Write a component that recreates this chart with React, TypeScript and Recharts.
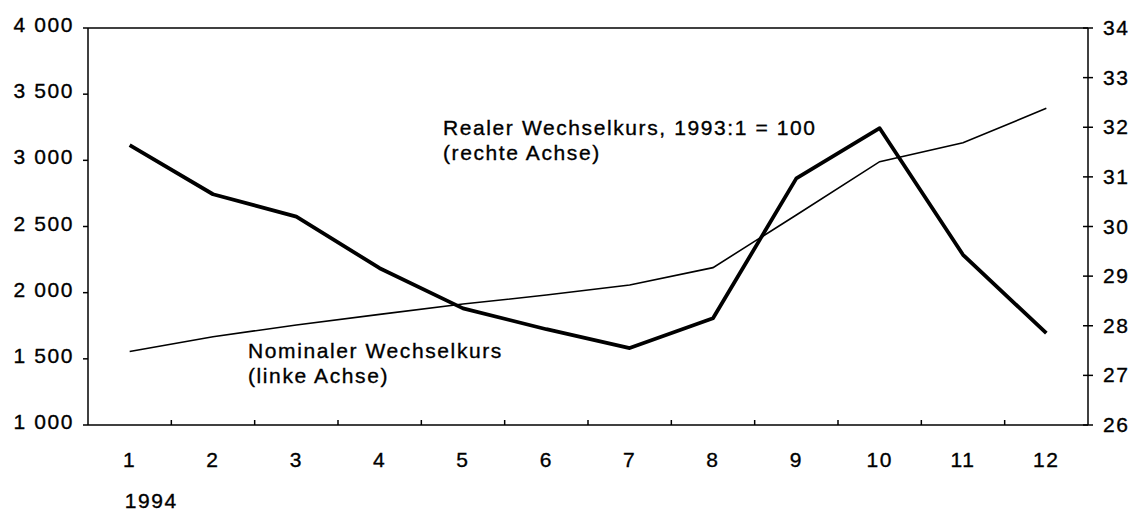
import { LineChart, Line, XAxis, YAxis, ReferenceLine } from "recharts";

const months = ["1", "2", "3", "4", "5", "6", "7", "8", "9", "10", "11", "12"];
const nominal = [1555, 1667, 1756, 1836, 1914, 1982, 2058, 2189, 2587, 2990, 3133, 3393];
const real = [31.64, 30.65, 30.2, 29.16, 28.35, 27.93, 27.55, 28.15, 30.97, 31.98, 29.43, 27.85];
const leftTicks = [1000, 1500, 2000, 2500, 3000, 3500, 4000];
const rightTicks = [26, 27, 28, 29, 30, 31, 32, 33, 34];
const yearLabel = "1994";
const realLabel = ["Realer Wechselkurs, 1993:1 = 100", "(rechte Achse)"];
const nominalLabel = ["Nominaler Wechselkurs", "(linke Achse)"];

const W = 1135;
const H = 511;
const LEFT_W = 88;
const RIGHT_W = 47;
const PLOT_W = W - LEFT_W - RIGHT_W;
const STEP = PLOT_W / months.length;
const FONT = "'Liberation Sans', Arial, Helvetica, sans-serif";
const FS = 21;
const LS = 1.6;

const data = months.map((m, i) => ({ month: m, nominal: nominal[i], real: real[i] }));

const fmt = (v: number) =>
  v >= 1000 ? `${Math.floor(v / 1000)} ${String(v % 1000).padStart(3, "0")}` : String(v);

// shared look for svg labels, slight stroke to mimic the heavier print
const txt = {
  fontSize: FS,
  fontFamily: FONT,
  letterSpacing: LS,
  fill: "#000",
  stroke: "#000",
  strokeWidth: 0.35,
};

function XTick(props: any) {
  const { x, y, payload, index } = props;
  return (
    <g>
      {index > 0 && (
        <line x1={x - STEP / 2} x2={x - STEP / 2} y1={y} y2={y - 5} stroke="#000" strokeWidth={1.5} />
      )}
      <text x={x} y={y + 42} textAnchor="middle" {...txt}>
        {payload.value}
      </text>
      {index === 0 && (
        <text x={x - 5} y={y + 83} textAnchor="start" {...txt}>
          {yearLabel}
        </text>
      )}
    </g>
  );
}

function LeftTick(props: any) {
  const { x, y, payload } = props;
  return (
    <g>
      <line x1={x - 5} x2={x} y1={y} y2={y} stroke="#000" strokeWidth={1.5} />
      <text x={x - 14} y={y + 4} textAnchor="end" {...txt}>
        {fmt(payload.value)}
      </text>
    </g>
  );
}

function RightTick(props: any) {
  const { x, y, payload } = props;
  return (
    <g>
      <line x1={x - 5} x2={x + 5} y1={y} y2={y} stroke="#000" strokeWidth={1.5} />
      <text x={x + 15} y={y + 7} textAnchor="start" {...txt}>
        {payload.value}
      </text>
    </g>
  );
}

const noteStyle = {
  position: "absolute" as const,
  fontFamily: FONT,
  fontSize: FS,
  lineHeight: "25px",
  letterSpacing: LS,
  color: "#000",
  WebkitTextStroke: "0.35px #000",
  whiteSpace: "nowrap" as const,
};

export default function App() {
  return (
    <div style={{ position: "absolute", left: 0, top: 0, width: W, height: H, background: "#fff" }}>
      <LineChart width={W} height={H} data={data} margin={{ top: 28, right: 0, left: 0, bottom: 0 }}>
        <XAxis
          dataKey="month"
          height={86}
          interval={0}
          padding={{ left: STEP / 2, right: STEP / 2 }}
          tickSize={0}
          tickMargin={0}
          tickLine={false}
          axisLine={{ stroke: "#000", strokeWidth: 1.5 }}
          tick={(p: any) => <XTick {...p} />}
        />
        <YAxis
          yAxisId="left"
          orientation="left"
          width={LEFT_W}
          domain={[1000, 4000]}
          ticks={leftTicks}
          interval={0}
          tickSize={0}
          tickMargin={0}
          tickLine={false}
          axisLine={{ stroke: "#000", strokeWidth: 1.5 }}
          tick={(p: any) => <LeftTick {...p} />}
        />
        <YAxis
          yAxisId="right"
          orientation="right"
          width={RIGHT_W}
          domain={[26, 34]}
          ticks={rightTicks}
          interval={0}
          tickSize={0}
          tickMargin={0}
          tickLine={false}
          axisLine={{ stroke: "#000", strokeWidth: 1.5 }}
          tick={(p: any) => <RightTick {...p} />}
        />
        <ReferenceLine yAxisId="left" y={4000} stroke="#000" strokeWidth={1.5} />
        <Line
          yAxisId="left"
          type="linear"
          dataKey="nominal"
          stroke="#000"
          strokeWidth={1.6}
          dot={false}
          isAnimationActive={false}
        />
        <Line
          yAxisId="right"
          type="linear"
          dataKey="real"
          stroke="#000"
          strokeWidth={3.8}
          strokeLinejoin="round"
          dot={false}
          isAnimationActive={false}
        />
      </LineChart>
      <div style={{ ...noteStyle, left: 443, top: 115 }}>
        {realLabel[0]}
        <br />
        {realLabel[1]}
      </div>
      <div style={{ ...noteStyle, left: 248, top: 338 }}>
        {nominalLabel[0]}
        <br />
        {nominalLabel[1]}
      </div>
    </div>
  );
}
